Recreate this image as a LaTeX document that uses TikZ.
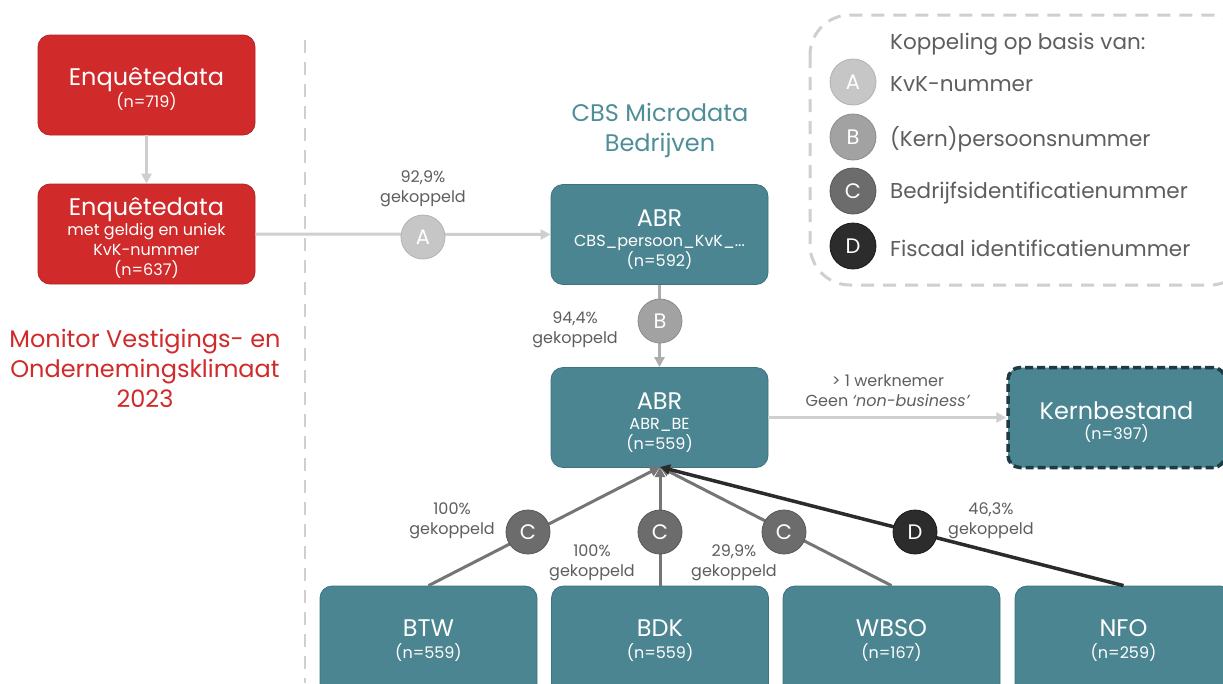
\documentclass[tikz,border=0pt]{standalone}
\usepackage{fontspec}
\setmainfont{Poppins}
\usetikzlibrary{arrows.meta}
\definecolor{cbsred}{HTML}{D02A2B}
\definecolor{cbsredline}{HTML}{B42224}
\definecolor{teal}{HTML}{4A8591}
\definecolor{tealline}{HTML}{3E7380}
\definecolor{tealtitle}{HTML}{4E8E98}
\definecolor{darkteal}{HTML}{1E3B45}
\definecolor{lightline}{HTML}{CFCFCF}
\definecolor{bline}{HTML}{ADADAD}
\definecolor{midline}{HTML}{757575}
\definecolor{darkline}{HTML}{2B2B2B}
\definecolor{lbltext}{HTML}{5E5E5E}
\definecolor{cA}{HTML}{C6C6C6}
\definecolor{cAl}{HTML}{B2B2B2}
\definecolor{cB}{HTML}{A2A2A2}
\definecolor{cBl}{HTML}{8C8C8C}
\definecolor{cC}{HTML}{6C6C6C}
\definecolor{cCl}{HTML}{575757}
\definecolor{cD}{HTML}{2C2C2C}
\definecolor{cDl}{HTML}{1A1A1A}
\newcommand\bigtxt{\fontsize{24}{26}\selectfont}
\newcommand\smalltxt{\fontsize{16}{20}\selectfont}
\newcommand\lift{\rule{0pt}{26pt}}
\begin{document}
\begin{tikzpicture}[x=1pt,y=-1pt,
  box/.style={rounded corners=12pt, minimum width=217pt, minimum height=100pt,
     align=center, text=white, font=\smalltxt, inner sep=0pt},
  redbox/.style={box, fill=cbsred, draw=cbsredline, line width=0.8pt},
  tealbox/.style={box, fill=teal, draw=tealline, line width=0.8pt},
  lbl/.style={text=lbltext, font=\smalltxt, align=center, inner sep=0pt},
  keycirc/.style={circle, minimum size=44pt, inner sep=0pt, text=white,
     font=\fontsize{21}{21}\selectfont, line width=0.8pt},
  kA/.style={keycirc, fill=cA, draw=cAl},
  kB/.style={keycirc, fill=cB, draw=cBl},
  kC/.style={keycirc, fill=cC, draw=cCl},
  kD/.style={keycirc, fill=cD, draw=cDl},
  legtxt/.style={text=lbltext, font=\fontsize{21.5}{24}\selectfont, anchor=west, inner sep=0pt},
  lightarrow/.style={draw=lightline, line width=3pt, -{Triangle[length=10pt,width=10pt]}},
  barrow/.style={draw=bline, line width=3pt, -{Triangle[length=10pt,width=10pt]}},
  midarrow/.style={draw=midline, line width=3pt, -{Triangle[length=10pt,width=10pt]}},
  darkarrow/.style={draw=darkline, line width=3.5pt, -{Triangle[length=10pt,width=10pt]}},
]
\useasboundingbox (0,0) rectangle (1223,683);
\fill[white] (0,0) rectangle (1223,683);

% separator
\draw[lightline, line width=2.5pt, dash pattern=on 13pt off 9pt] (305,40) -- (305,683);

% legend frame
\draw[lightline, line width=3pt, dash pattern=on 13pt off 9pt, rounded corners=40pt]
  (810,15) rectangle (1250,285);
\node[legtxt] (legt) at (890,44) {Koppeling op basis van:};
\node[kA, minimum size=46pt] (lA) at (853,82) {A};
\node[kB, minimum size=46pt] (lB) at (853,137) {B};
\node[kC, minimum size=46pt] (lC) at (853,191) {C};
\node[kD, minimum size=46pt] (lD) at (853,246) {D};
\node[legtxt] (lAt) at (890,84) {KvK-nummer};
\node[legtxt] (lBt) at (890,139) {(Kern)persoonsnummer};
\node[legtxt] (lCt) at (890,193) {Bedrijfsidentificatienummer};
\node[legtxt] (lDt) at (890,248) {Fiscaal identificatienummer};

% red boxes
\node[redbox] (e1) at (146.5,85) {{\bigtxt\lift Enquêtedata}\\(n=719)};
\node[redbox] (e2) at (146.5,234) {{\bigtxt\lift Enquêtedata}\\met geldig en uniek\\KvK-nummer\\(n=637)};
\node[text=cbsred, font=\fontsize{24}{30}\selectfont, align=center, inner sep=0pt] (mon) at (145,368)
  {Monitor Vestigings- en\\Ondernemingsklimaat\\2023};

% CBS title
\node[text=tealtitle, font=\fontsize{24}{30}\selectfont, align=center, inner sep=0pt] (cbs) at (660,130)
  {CBS Microdata\\Bedrijven};

% teal boxes
\node[tealbox] (abr1) at (659.5,234.5) {{\bigtxt\lift ABR}\\CBS\_persoon\_KvK\_...\\(n=592)};
\node[tealbox] (abr2) at (659.5,417.5) {{\bigtxt\lift ABR}\\ABR\_BE\\(n=559)};
\node[tealbox, draw=darkteal, line width=3.5pt, dash pattern=on 8pt off 4pt] (kern) at (1116.5,417.5)
  {{\bigtxt\lift Kernbestand}\\(n=397)};
\node[tealbox, minimum height=110pt] (btw) at (428.5,641) {{\bigtxt BTW}\\[2pt](n=559)};
\node[tealbox, minimum height=110pt] (bdk) at (660,641) {{\bigtxt BDK}\\[2pt](n=559)};
\node[tealbox, minimum height=110pt] (wbso) at (891.5,641) {{\bigtxt WBSO}\\[2pt](n=167)};
\node[tealbox, minimum height=110pt] (nfo) at (1123.5,641) {{\bigtxt NFO}\\[2pt](n=259)};

% connectors
\draw[lightarrow] (e1.south) -- (e2.north);
\draw[lightarrow] (e2.east) -- (abr1.west);
\draw[barrow] (abr1.south) -- (abr2.north);
\draw[lightarrow] (abr2.east) -- (kern.west);
\coordinate (hub) at (660,467);
\draw[midarrow] (btw.north) -- (hub);
\draw[midarrow] (bdk.north) -- (hub);
\draw[midarrow] (wbso.north) -- (hub);
\draw[darkarrow] (nfo.north) -- (hub);

% key circles on connectors
\node[kA] (cA) at (423,237) {A};
\node[kB] (cB) at (660,321) {B};
\node[kC] (cC1) at (528,532) {C};
\node[kC] (cC2) at (660,532) {C};
\node[kC] (cC3) at (784,532) {C};
\node[kD] (cD) at (915,532) {D};

% labels
\node[lbl] (pA) at (423,189) {92,9\%\\gekoppeld};
\node[lbl, anchor=east] (pB) at (618,330) {94,4\%\\gekoppeld};
\node[lbl] (pK) at (888,391) {> 1 werknemer\\Geen \textit{‘non-business’}};
\node[lbl, anchor=east] (pC1) at (495,521) {100\%\\gekoppeld};
\node[lbl] (pC2) at (592,563) {100\%\\gekoppeld};
\node[lbl] (pC3) at (734,563) {29,9\%\\gekoppeld};
\node[lbl, anchor=west] (pD) at (948,521) {46,3\%\\gekoppeld};
\end{tikzpicture}
\end{document}
